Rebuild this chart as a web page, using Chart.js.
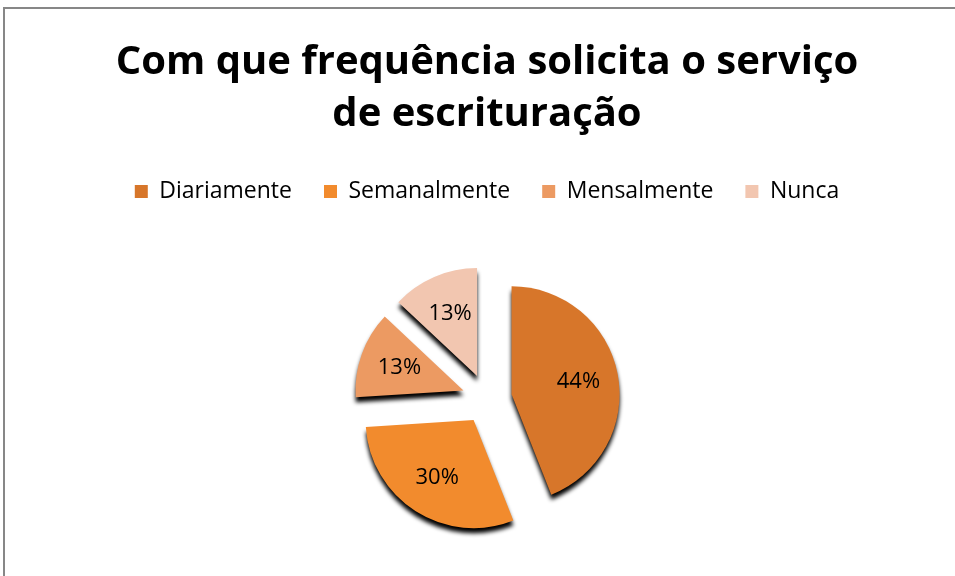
<!DOCTYPE html>
<html>
<head>
<meta charset="utf-8">
<title>Com que frequência solicita o serviço de escrituração</title>
<script src="https://cdn.jsdelivr.net/npm/chart.js@4/dist/chart.umd.min.js"></script>
<style>
    body { margin: 0; background: #ffffff; overflow: hidden; }
    #wrap { position: relative; width: 955px; height: 576px; overflow: hidden; }
</style>
</head>
<body>
<div id="wrap"><canvas id="frequenciaChart" width="955" height="585"></canvas></div>
<script>

const titleLines = [ 'Com que frequência solicita o serviço', 'de escrituração' ];
const categories = [ 'Diariamente', 'Semanalmente', 'Mensalmente', 'Nunca' ];
const percentages = [ 44, 30, 13, 13 ];
const sliceColours = [ '#d7762a', '#f28b2d', '#ec9a62', '#f2c6b0' ];

const explodeDistance = 25;

// draws the grey frame of the chart object
const framePlugin = {
    id: 'frame',
    beforeDraw: function( chart ) {
        let ctx = chart.ctx;
        ctx.save();
        ctx.strokeStyle = '#878787';
        ctx.lineWidth = 2;
        ctx.strokeRect( 4, 8, 1200, 1200 );
        ctx.restore();
    },
};

// pushes every slice away from the centre, with a dark shadow under it
const explodePlugin = {
    id: 'explode',
    beforeDatasetsDraw: function( chart ) {
        let meta = chart.getDatasetMeta( 0 );
        meta.data.forEach( function( arc ) {
            if ( arc._exploded ) {
                return;
            }
            let originalDraw = arc.draw.bind( arc );
            arc.draw = function( ctx ) {
                let mid = ( this.startAngle + this.endAngle ) / 2;
                ctx.save();
                ctx.translate( Math.cos( mid ) * explodeDistance, Math.sin( mid ) * explodeDistance );
                ctx.shadowColor = 'rgba(0, 0, 0, 1)';
                ctx.shadowBlur = 4;
                ctx.shadowOffsetX = 0;
                ctx.shadowOffsetY = 5;
                originalDraw( ctx );
                ctx.restore();
            };
            arc._exploded = true;
        } );
    },
    afterDatasetsDraw: function( chart ) {
        let ctx = chart.ctx;
        let meta = chart.getDatasetMeta( 0 );
        ctx.save();
        ctx.font = '22px "Open Sans"';
        ctx.fillStyle = '#000000';
        ctx.textAlign = 'center';
        ctx.textBaseline = 'middle';
        meta.data.forEach( function( arc, i ) {
            let mid = ( arc.startAngle + arc.endAngle ) / 2;
            let dist = explodeDistance + arc.outerRadius * 0.63;
            ctx.fillText( percentages[ i ] + '%', arc.x + Math.cos( mid ) * dist, arc.y + Math.sin( mid ) * dist );
        } );
        ctx.restore();
    },
};

function addFrequenciaChart() {

    let ctx = document.getElementById( 'frequenciaChart' ).getContext( '2d' );
    let myPieChart = new Chart( ctx, {
        type: 'pie',
        data: {
            labels: categories,
            datasets: [{
                data: percentages,
                backgroundColor: sliceColours,
                borderWidth: 0,
                radius: 108,
            }],
        },
        options: {
            responsive: false,
            animation: false,
            layout: {
                padding: { left: 19, right: 0, top: 0, bottom: 0 },
            },
            plugins: {
                title: {
                    display: true,
                    text: titleLines,
                    color: '#000000',
                    font: { family: 'Open Sans', size: 40, weight: 'bold', lineHeight: 1.3 },
                    padding: { top: 37, bottom: 7 },
                },
                legend: {
                    position: 'top',
                    labels: {
                        color: '#000000',
                        font: { family: 'Open Sans', size: 23 },
                        boxWidth: 13,
                        boxHeight: 13,
                        padding: 32,
                    },
                },
                tooltip: { enabled: false },
            },
        },
        plugins: [ framePlugin, explodePlugin ],
    } );

}

addFrequenciaChart();

</script>
</body>
</html>
